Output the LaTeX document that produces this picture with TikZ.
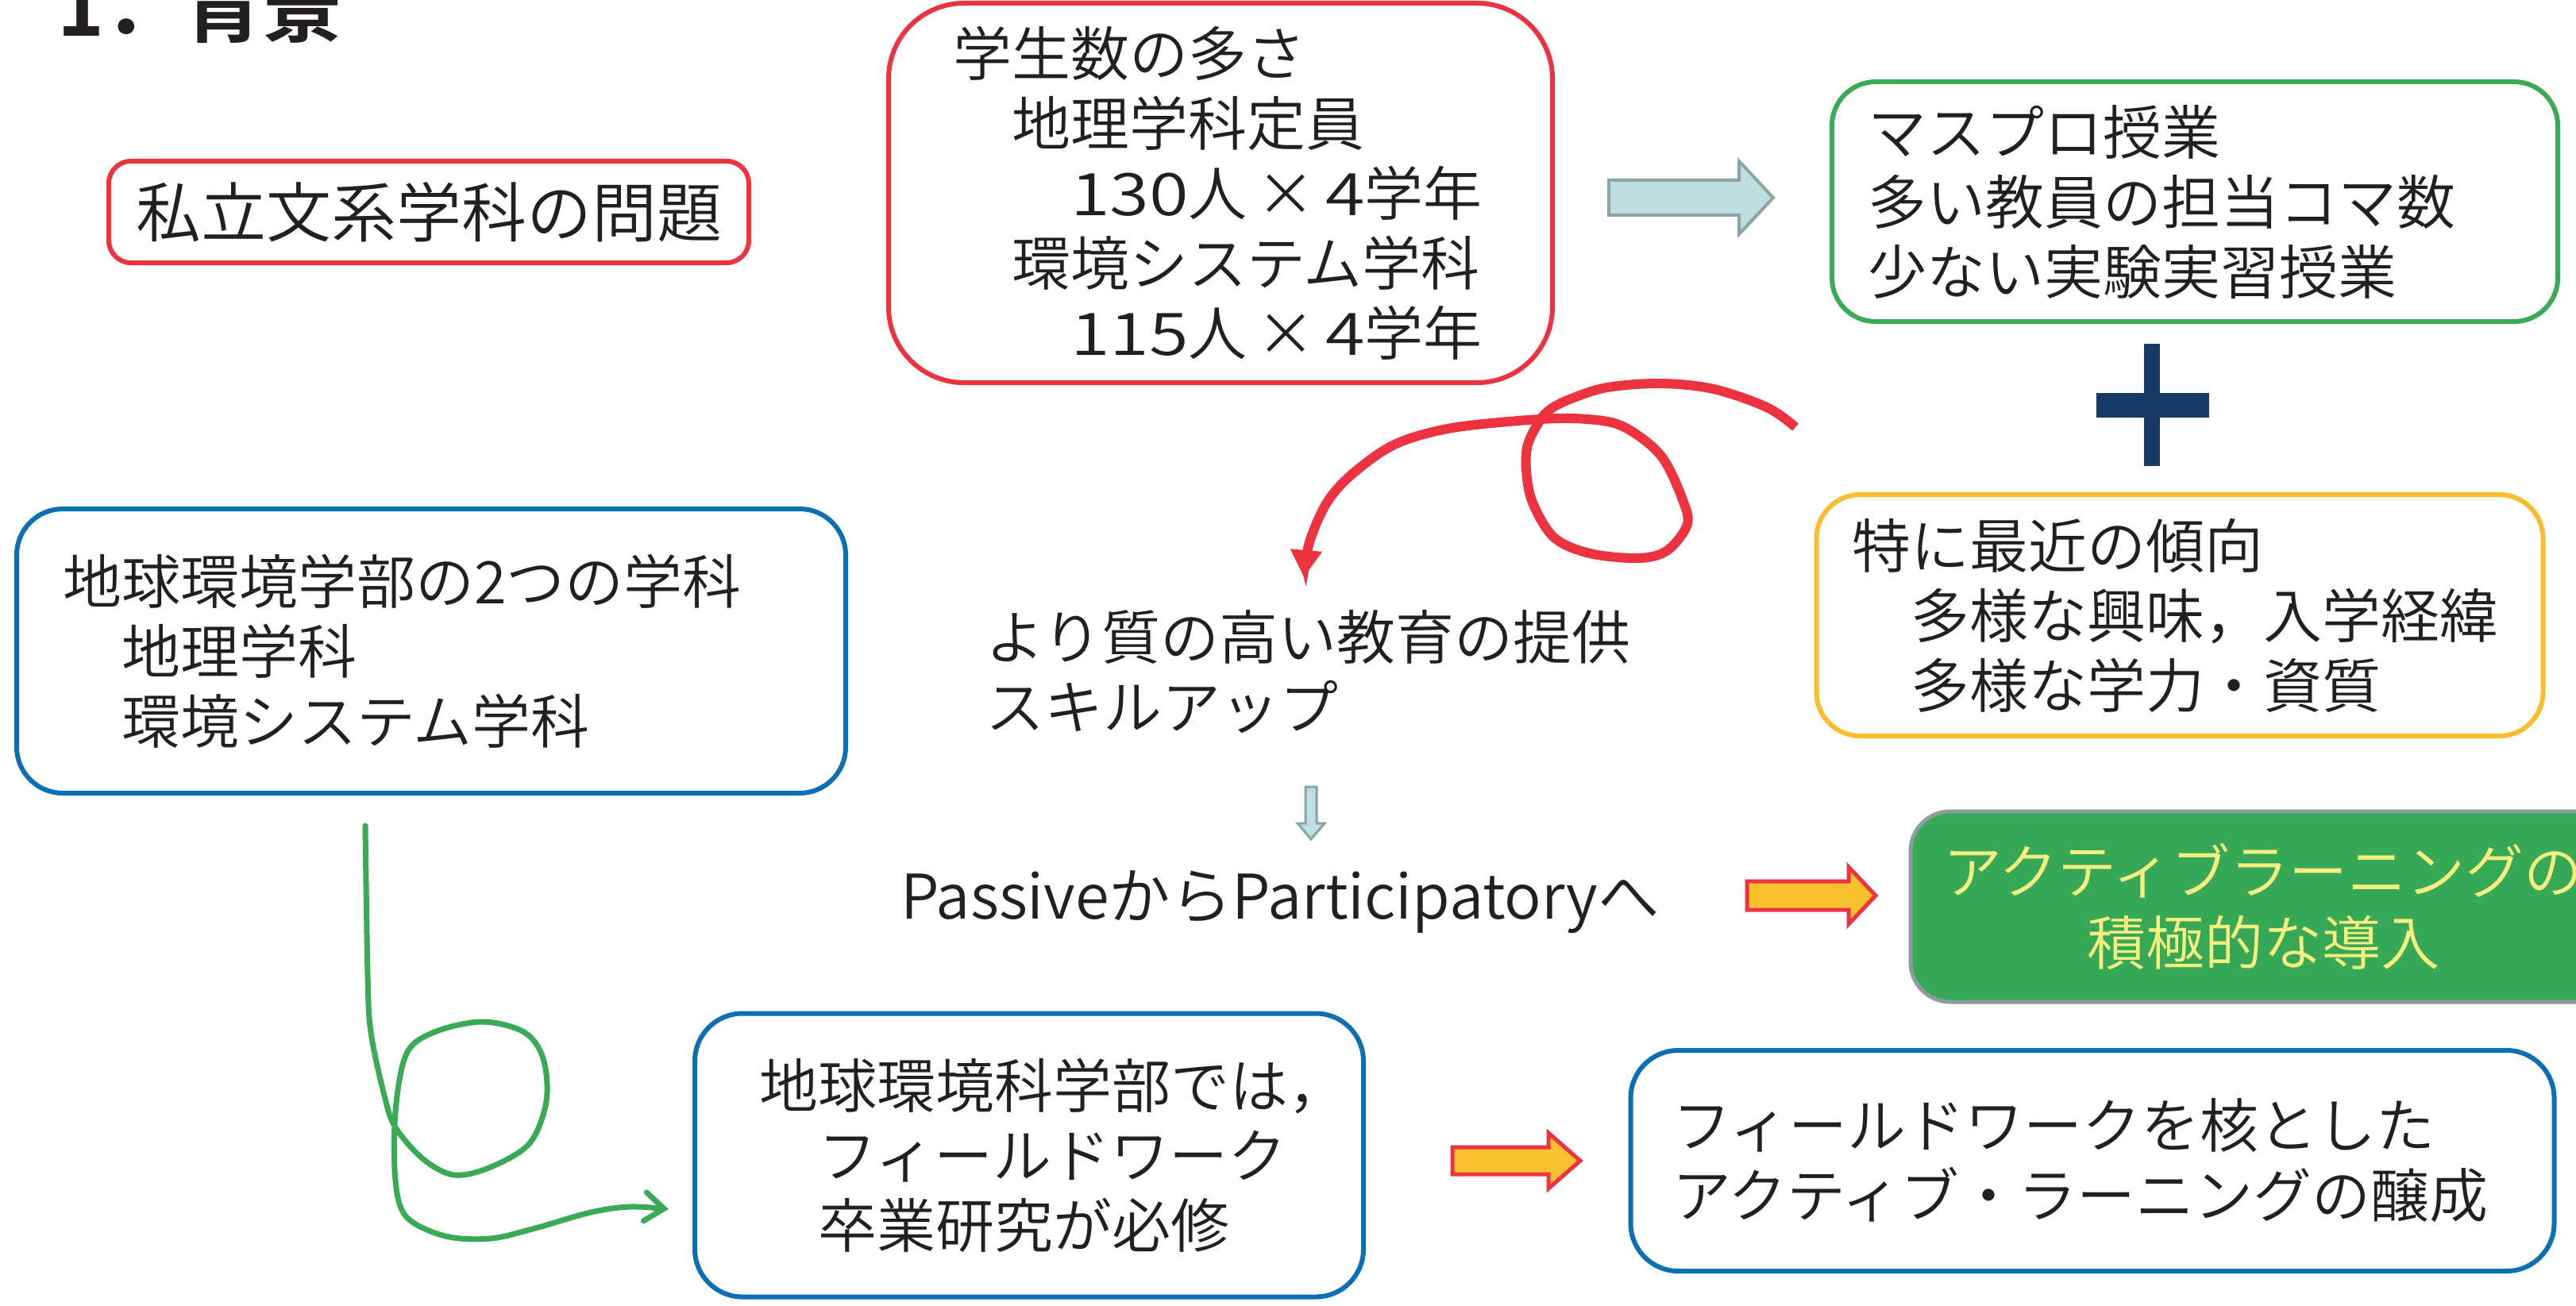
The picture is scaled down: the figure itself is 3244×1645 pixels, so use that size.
\documentclass[tikz,border=0pt]{standalone}
\usepackage{fontspec}
\usepackage{graphicx}
\setmainfont{Noto Sans CJK JP}[UprightFont={* DemiLight}, BoldFont={* Bold}]
\usetikzlibrary{arrows.meta}
\definecolor{txt}{HTML}{231F20}
\definecolor{rred}{HTML}{EE3340}
\definecolor{gbord}{HTML}{3AAA55}
\definecolor{ybord}{HTML}{FBBD2E}
\definecolor{bblue}{HTML}{0B70B3}
\definecolor{tealfill}{HTML}{BEDEDF}
\definecolor{tealdraw}{HTML}{8AA5A6}
\definecolor{navy}{HTML}{173A66}
\definecolor{orfill}{HTML}{FBC02E}
\definecolor{gfill}{HTML}{36A856}
\definecolor{gdraw}{HTML}{8A9E9F}
\definecolor{ytext}{HTML}{F5EF80}
\newcommand{\widenum}[1]{\scalebox{1.22}[1]{#1}}
\tikzset{
  jp/.style={font=\fontsize{74}{88}\selectfont, text=txt},
  rbox/.style={draw, line width=6pt, rounded corners=#1, inner sep=0pt, jp, align=left},
  tealarrow/.style={fill=tealfill, draw=tealdraw, line join=miter},
  orarrow/.style={fill=orfill, draw=rred, line width=5pt, line join=miter},
}
\begin{document}
\begin{tikzpicture}[x=1pt,y=-1pt]
\clip (0,0) rectangle (3244,1645);
\fill[white] (0,0) rectangle (3244,1645);

% title
\node[anchor=base west, inner sep=0pt, text=txt, font=\fontsize{100}{110}\selectfont\bfseries] (title) at (72,46) {1．背景};

% problem box
\node[rbox=28pt, draw=rred, minimum width=806pt, minimum height=128pt, align=center, font=\fontsize{82}{90}\selectfont] (probl) at (540,267) {私立文系学科の問題};

% numbers box
\node[rbox=95pt, draw=rred, minimum width=836pt, minimum height=478pt, text width=674pt] (nums) at (1537,243)
  {学生数の多さ\\\hspace*{1em}地理学科定員\\\hspace*{2em}\widenum{130}人\,×\,\widenum{4}学年\\\hspace*{1em}環境システム学科\\\hspace*{2em}\widenum{115}人\,×\,\widenum{4}学年};

% teal block arrow
\draw[tealarrow, line width=4pt] (2026,227) -- (2190,227) -- (2190,203) -- (2233,249) -- (2190,295) -- (2190,271) -- (2026,271) -- cycle;

% mass-production box
\node[rbox=55pt, draw=gbord, minimum width=914pt, minimum height=302pt, text width=824pt] (mass) at (2764,254)
  {マスプロ授業\\多い教員の担当コマ数\\少ない実験実習授業};

% plus
\fill[navy] (2700,433) rectangle (2720,587);
\fill[navy] (2640,495) rectangle (2782,526);

% trend box
\node[rbox=55pt, draw=ybord, minimum width=915pt, minimum height=304pt, text width=826pt] (trend) at (2745,775)
  {特に最近の傾向\\\hspace*{1em}多様な興味，入学経緯\\\hspace*{1em}多様な学力・資質};

% department box
\node[rbox=58pt, draw=bblue, minimum width=1044pt, minimum height=358pt, text width=928pt] (dept) at (543,820)
  {地球環境学部の2つの学科\\\hspace*{1em}地理学科\\\hspace*{1em}環境システム学科};

% middle text
\node[jp, anchor=west, align=left, inner sep=0pt] (qual) at (1241,846) {より質の高い教育の提供\\スキルアップ};

% small teal down arrow
\draw[tealarrow, line width=3pt] (1644,991) -- (1658,991) -- (1658,1037) -- (1668,1037) -- (1651,1057) -- (1634,1037) -- (1644,1037) -- cycle;

% passive text
\node[jp, anchor=base west, inner sep=0pt, font=\fontsize{77.5}{88}\selectfont] (pass) at (1134,1157) {PassiveからParticipatoryへ};

% orange arrow 1
\draw[orarrow] (2200,1110) -- (2328,1110) -- (2328,1092) -- (2362,1128) -- (2328,1164) -- (2328,1146) -- (2200,1146) -- cycle;

% active learning filled box
\node[draw=gdraw, fill=gfill, line width=5pt, rounded corners=50pt, minimum width=888pt, minimum height=240pt, inner sep=0pt, text=ytext, align=center, font=\fontsize{74}{90}\selectfont] (active) at (2850,1142)
  {アクティブラーニングの\\積極的な導入};

% fieldwork box
\node[rbox=60pt, draw=bblue, minimum width=842pt, minimum height=357pt, text width=680pt] (fw) at (1296,1455)
  {地球環境科学部では，\\\hspace*{1em}フィールドワーク\\\hspace*{1em}卒業研究が必修};

% orange arrow 2
\draw[orarrow] (1829,1445) -- (1950,1445) -- (1950,1427) -- (1990,1462) -- (1950,1497) -- (1950,1479) -- (1829,1479) -- cycle;

% core box
\node[rbox=60pt, draw=bblue, minimum width=1163pt, minimum height=278pt, text width=1058pt] (core) at (2635,1462)
  {フィールドワークを核とした\\アクティブ・ラーニングの醸成};

% green curly connector
\coordinate (gs) at (460,1040);
\coordinate (ge) at (842,1523);
\draw[gbord, line width=7pt, line cap=round, line join=round, -{Straight Barb[length=24pt,width=36pt,line cap=round]}]
  plot[smooth, tension=0.55] coordinates {(gs) (463,1227) (467,1300) (484,1380) (498,1420) (533,1460) (572,1480) (618,1470) (667,1440) (688,1387) (684,1333) (660,1300) (607,1287) (547,1300) (512,1327) (498,1400) (498,1487) (512,1533) (561,1557) (618,1560) (674,1547) (744,1527) (793,1520) (ge)};

% red curly connector
\coordinate (rs) at (2261,538);
\coordinate (re) at (1642,727);
\draw[rred, line width=12pt, -{Triangle[length=34pt,width=38pt]}]
  plot[smooth, tension=0.55] coordinates {(rs) (2225,513) (2158,490) (2091,483) (2024,488) (1979,502) (1953,515) (1939,530) (1924,560) (1922,593) (1930,633) (1957,677) (2002,697) (2064,703) (2100,693) (2125,660) (2118,627) (2096,580) (2069,553) (2033,533) (1979,527) (1912,530) (1823,540) (1756,560) (1703,597) (1671,633) (1649,683) (re)};
\end{tikzpicture}
\end{document}
